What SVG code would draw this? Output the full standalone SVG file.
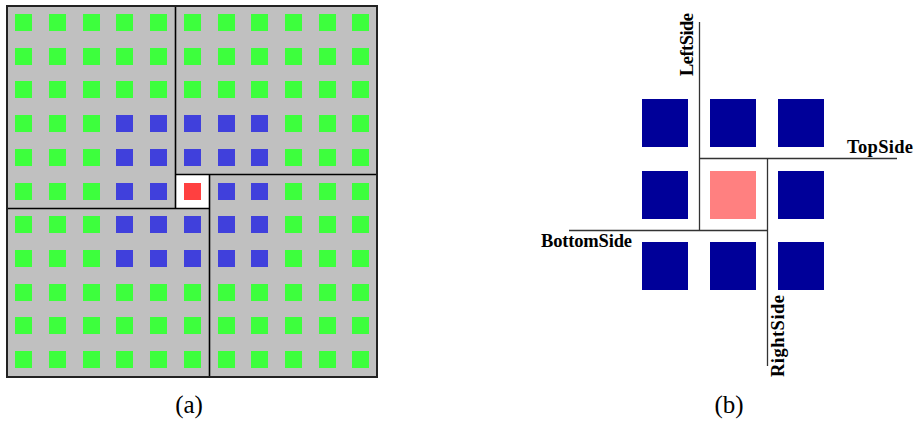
<svg xmlns="http://www.w3.org/2000/svg" width="915" height="428" viewBox="0 0 915 428">
<style>
.g{fill:#3dff3d}
.b{fill:#4040dc}
.r{fill:#ff4040}
.n{fill:#000099}
.p{fill:#ff8080}
.ln{stroke:#000;stroke-width:1.6;fill:none}
.lb{stroke:#333;stroke-width:1.3;fill:none}
.lab{font-family:"Liberation Serif",serif;font-weight:bold;font-size:18.5px;fill:#000}
.cap{font-family:"Liberation Serif",serif;font-size:25px;fill:#000}
</style>
<g id="panel-a">
<rect x="7" y="6" width="370" height="371" fill="#c0c0c0" stroke="#222" stroke-width="2"/>
<rect x="175.5" y="174.5" width="33.5" height="33.5" fill="#fff"/>
<g id="row0"><rect class="g" x="15" y="14" width="17" height="17"/><rect class="g" x="49" y="14" width="17" height="17"/><rect class="g" x="83" y="14" width="17" height="17"/><rect class="g" x="116" y="14" width="17" height="17"/><rect class="g" x="150" y="14" width="17" height="17"/><rect class="g" x="184" y="14" width="17" height="17"/><rect class="g" x="218" y="14" width="17" height="17"/><rect class="g" x="251" y="14" width="17" height="17"/><rect class="g" x="285" y="14" width="17" height="17"/><rect class="g" x="319" y="14" width="17" height="17"/><rect class="g" x="352" y="14" width="17" height="17"/></g>
<g id="row1"><rect class="g" x="15" y="48" width="17" height="17"/><rect class="g" x="49" y="48" width="17" height="17"/><rect class="g" x="83" y="48" width="17" height="17"/><rect class="g" x="116" y="48" width="17" height="17"/><rect class="g" x="150" y="48" width="17" height="17"/><rect class="g" x="184" y="48" width="17" height="17"/><rect class="g" x="218" y="48" width="17" height="17"/><rect class="g" x="251" y="48" width="17" height="17"/><rect class="g" x="285" y="48" width="17" height="17"/><rect class="g" x="319" y="48" width="17" height="17"/><rect class="g" x="352" y="48" width="17" height="17"/></g>
<g id="row2"><rect class="g" x="15" y="81" width="17" height="17"/><rect class="g" x="49" y="81" width="17" height="17"/><rect class="g" x="83" y="81" width="17" height="17"/><rect class="g" x="116" y="81" width="17" height="17"/><rect class="g" x="150" y="81" width="17" height="17"/><rect class="g" x="184" y="81" width="17" height="17"/><rect class="g" x="218" y="81" width="17" height="17"/><rect class="g" x="251" y="81" width="17" height="17"/><rect class="g" x="285" y="81" width="17" height="17"/><rect class="g" x="319" y="81" width="17" height="17"/><rect class="g" x="352" y="81" width="17" height="17"/></g>
<g id="row3"><rect class="g" x="15" y="115" width="17" height="17"/><rect class="g" x="49" y="115" width="17" height="17"/><rect class="g" x="83" y="115" width="17" height="17"/><rect class="b" x="116" y="115" width="17" height="17"/><rect class="b" x="150" y="115" width="17" height="17"/><rect class="b" x="184" y="115" width="17" height="17"/><rect class="b" x="218" y="115" width="17" height="17"/><rect class="b" x="251" y="115" width="17" height="17"/><rect class="g" x="285" y="115" width="17" height="17"/><rect class="g" x="319" y="115" width="17" height="17"/><rect class="g" x="352" y="115" width="17" height="17"/></g>
<g id="row4"><rect class="g" x="15" y="149" width="17" height="17"/><rect class="g" x="49" y="149" width="17" height="17"/><rect class="g" x="83" y="149" width="17" height="17"/><rect class="b" x="116" y="149" width="17" height="17"/><rect class="b" x="150" y="149" width="17" height="17"/><rect class="b" x="184" y="149" width="17" height="17"/><rect class="b" x="218" y="149" width="17" height="17"/><rect class="b" x="251" y="149" width="17" height="17"/><rect class="g" x="285" y="149" width="17" height="17"/><rect class="g" x="319" y="149" width="17" height="17"/><rect class="g" x="352" y="149" width="17" height="17"/></g>
<g id="row5"><rect class="g" x="15" y="183" width="17" height="17"/><rect class="g" x="49" y="183" width="17" height="17"/><rect class="g" x="83" y="183" width="17" height="17"/><rect class="b" x="116" y="183" width="17" height="17"/><rect class="b" x="150" y="183" width="17" height="17"/><rect class="r" x="184" y="183" width="17" height="17"/><rect class="b" x="218" y="183" width="17" height="17"/><rect class="b" x="251" y="183" width="17" height="17"/><rect class="g" x="285" y="183" width="17" height="17"/><rect class="g" x="319" y="183" width="17" height="17"/><rect class="g" x="352" y="183" width="17" height="17"/></g>
<g id="row6"><rect class="g" x="15" y="216" width="17" height="17"/><rect class="g" x="49" y="216" width="17" height="17"/><rect class="g" x="83" y="216" width="17" height="17"/><rect class="b" x="116" y="216" width="17" height="17"/><rect class="b" x="150" y="216" width="17" height="17"/><rect class="b" x="184" y="216" width="17" height="17"/><rect class="b" x="218" y="216" width="17" height="17"/><rect class="b" x="251" y="216" width="17" height="17"/><rect class="g" x="285" y="216" width="17" height="17"/><rect class="g" x="319" y="216" width="17" height="17"/><rect class="g" x="352" y="216" width="17" height="17"/></g>
<g id="row7"><rect class="g" x="15" y="250" width="17" height="17"/><rect class="g" x="49" y="250" width="17" height="17"/><rect class="g" x="83" y="250" width="17" height="17"/><rect class="b" x="116" y="250" width="17" height="17"/><rect class="b" x="150" y="250" width="17" height="17"/><rect class="b" x="184" y="250" width="17" height="17"/><rect class="b" x="218" y="250" width="17" height="17"/><rect class="b" x="251" y="250" width="17" height="17"/><rect class="g" x="285" y="250" width="17" height="17"/><rect class="g" x="319" y="250" width="17" height="17"/><rect class="g" x="352" y="250" width="17" height="17"/></g>
<g id="row8"><rect class="g" x="15" y="284" width="17" height="17"/><rect class="g" x="49" y="284" width="17" height="17"/><rect class="g" x="83" y="284" width="17" height="17"/><rect class="g" x="116" y="284" width="17" height="17"/><rect class="g" x="150" y="284" width="17" height="17"/><rect class="g" x="184" y="284" width="17" height="17"/><rect class="g" x="218" y="284" width="17" height="17"/><rect class="g" x="251" y="284" width="17" height="17"/><rect class="g" x="285" y="284" width="17" height="17"/><rect class="g" x="319" y="284" width="17" height="17"/><rect class="g" x="352" y="284" width="17" height="17"/></g>
<g id="row9"><rect class="g" x="15" y="317" width="17" height="17"/><rect class="g" x="49" y="317" width="17" height="17"/><rect class="g" x="83" y="317" width="17" height="17"/><rect class="g" x="116" y="317" width="17" height="17"/><rect class="g" x="150" y="317" width="17" height="17"/><rect class="g" x="184" y="317" width="17" height="17"/><rect class="g" x="218" y="317" width="17" height="17"/><rect class="g" x="251" y="317" width="17" height="17"/><rect class="g" x="285" y="317" width="17" height="17"/><rect class="g" x="319" y="317" width="17" height="17"/><rect class="g" x="352" y="317" width="17" height="17"/></g>
<g id="row10"><rect class="g" x="15" y="351" width="17" height="17"/><rect class="g" x="49" y="351" width="17" height="17"/><rect class="g" x="83" y="351" width="17" height="17"/><rect class="g" x="116" y="351" width="17" height="17"/><rect class="g" x="150" y="351" width="17" height="17"/><rect class="g" x="184" y="351" width="17" height="17"/><rect class="g" x="218" y="351" width="17" height="17"/><rect class="g" x="251" y="351" width="17" height="17"/><rect class="g" x="285" y="351" width="17" height="17"/><rect class="g" x="319" y="351" width="17" height="17"/><rect class="g" x="352" y="351" width="17" height="17"/></g>
<g id="partition-a">
<path class="ln" d="M175.5 6V208.5"/>
<path class="ln" d="M7 208.5H209.5"/>
<path class="ln" d="M209.5 174.5V377"/>
<path class="ln" d="M175.5 174.5H377"/>
</g>
<rect x="7" y="6" width="370" height="371" fill="none" stroke="#222" stroke-width="2"/>
<text class="cap" x="189" y="413" text-anchor="middle">(a)</text>
</g>
<g id="panel-b">
<rect class="n" x="642" y="99" width="46" height="48"/>
<rect class="n" x="710" y="99" width="46" height="48"/>
<rect class="n" x="778" y="99" width="46" height="48"/>
<rect class="n" x="642" y="171" width="46" height="48"/>
<rect class="p" x="710" y="171" width="46" height="48"/>
<rect class="n" x="778" y="171" width="46" height="48"/>
<rect class="n" x="642" y="242" width="46" height="48"/>
<rect class="n" x="710" y="242" width="46" height="48"/>
<rect class="n" x="778" y="242" width="46" height="48"/>
<g id="sides">
<path class="lb" d="M699.5 22V230.5"/>
<path class="lb" d="M699.5 158.5H897"/>
<path class="lb" d="M767.5 158.5V366"/>
<path class="lb" d="M569 230.5H767.5"/>
</g>
<text class="lab" transform="translate(693 76) rotate(-90)" textLength="63">LeftSide</text>
<text class="lab" x="847" y="153" textLength="66">TopSide</text>
<text class="lab" x="541" y="247" textLength="91">BottomSide</text>
<text class="lab" transform="translate(784 377) rotate(-90)" textLength="82">RightSide</text>
<text class="cap" x="729" y="413" text-anchor="middle">(b)</text>
</g>
</svg>
